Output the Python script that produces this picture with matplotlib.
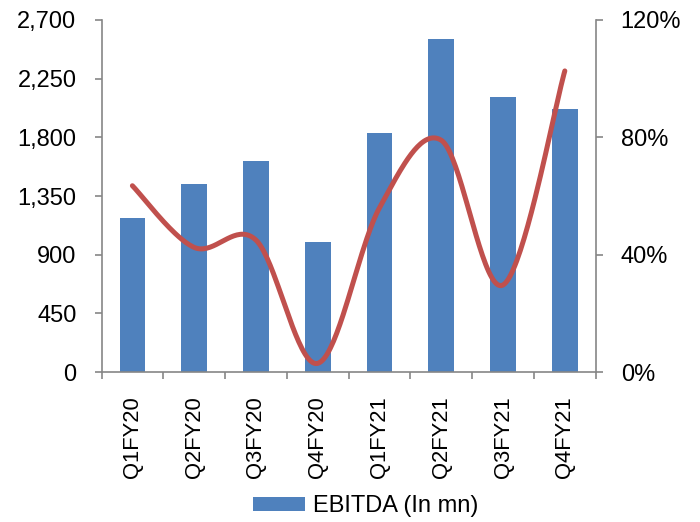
import matplotlib
matplotlib.use("Agg")
import matplotlib.pyplot as plt
import numpy as np
from matplotlib.ticker import FuncFormatter, FixedLocator

categories = ["Q1FY20", "Q2FY20", "Q3FY20", "Q4FY20", "Q1FY21", "Q2FY21", "Q3FY21", "Q4FY21"]
ebitda = [1180, 1440, 1620, 995, 1836, 2554, 2112, 2020]
margin_pct = [63.5, 42.5, 45.0, 3.0, 56.0, 79.0, 29.7, 102.6]
left_ticks = [0, 450, 900, 1350, 1800, 2250, 2700]
right_ticks = [0, 40, 80, 120]

plt.rcParams['font.family'] = ['Liberation Sans', 'DejaVu Sans']

BAR = "#4F81BD"
LINE = "#C0504D"
SPINE = "#868686"
FS = 17

fig = plt.figure(figsize=(7, 5.22), dpi=100)
ax = fig.add_axes([0.145, 0.287, 0.706, 0.675])
x = np.arange(len(categories))
ax.bar(x, ebitda, width=0.415, color=BAR, label="EBITDA (In mn)", zorder=2)
ax.set_xlim(-0.5, len(categories) - 0.5)
ax.set_ylim(0, 2700)
ax.set_yticks(left_ticks)
ax.yaxis.set_major_formatter(FuncFormatter(lambda v, p: f"{int(v):,}"))
ax.set_xticks(x)
ax.set_xticklabels(categories, rotation=90, fontsize=15.8)
ax.tick_params(axis='x', length=0, pad=17)
ax.xaxis.set_minor_locator(FixedLocator(np.arange(-0.5, len(categories), 1.0)))
ax.tick_params(axis='x', which='minor', length=5, color=SPINE, width=1.2)
ax.tick_params(axis='y', length=5, color=SPINE, width=1.2, labelsize=FS, pad=13)
for s in ['top', 'right']:
    ax.spines[s].set_visible(False)
for s in ['left', 'bottom']:
    ax.spines[s].set_color(SPINE)
    ax.spines[s].set_linewidth(1.2)

ax2 = ax.twinx()
ax2.set_ylim(0, 120)
ax2.set_yticks(right_ticks)
ax2.yaxis.set_major_formatter(FuncFormatter(lambda v, p: f"{int(v)}%"))
ax2.tick_params(axis='y', length=5, color=SPINE, width=1.2, labelsize=FS, pad=13)
for s in ['top', 'left', 'bottom']:
    ax2.spines[s].set_visible(False)
ax2.spines['right'].set_color(SPINE)
ax2.spines['right'].set_linewidth(1.2)

# Smoothed line (Catmull-Rom style, like spreadsheet smoothing)
px = x.astype(float)
py = np.array(margin_pct, dtype=float)
n = len(px)
xs, ys = [], []
for i in range(n - 1):
    p0 = (px[max(i - 1, 0)], py[max(i - 1, 0)])
    p1 = (px[i], py[i])
    p2 = (px[i + 1], py[i + 1])
    p3 = (px[min(i + 2, n - 1)], py[min(i + 2, n - 1)])
    c1 = (p1[0] + (p2[0] - p0[0]) / 6, p1[1] + (p2[1] - p0[1]) / 6)
    c2 = (p2[0] - (p3[0] - p1[0]) / 6, p2[1] - (p3[1] - p1[1]) / 6)
    t = np.linspace(0, 1, 40)
    bx = (1 - t) ** 3 * p1[0] + 3 * (1 - t) ** 2 * t * c1[0] + 3 * (1 - t) * t ** 2 * c2[0] + t ** 3 * p2[0]
    by = (1 - t) ** 3 * p1[1] + 3 * (1 - t) ** 2 * t * c1[1] + 3 * (1 - t) * t ** 2 * c2[1] + t ** 3 * p2[1]
    xs.extend(bx); ys.extend(by)
ax2.plot(xs, ys, color=LINE, linewidth=3.6, solid_capstyle='round', zorder=3)

handles, labels = ax.get_legend_handles_labels()
fig.legend(handles, labels, loc='center', bbox_to_anchor=(0.522, 0.03), frameon=False,
           fontsize=FS, handlelength=2.2, handleheight=0.5, handletextpad=0.35)

fig.savefig("out.png", dpi=100)
